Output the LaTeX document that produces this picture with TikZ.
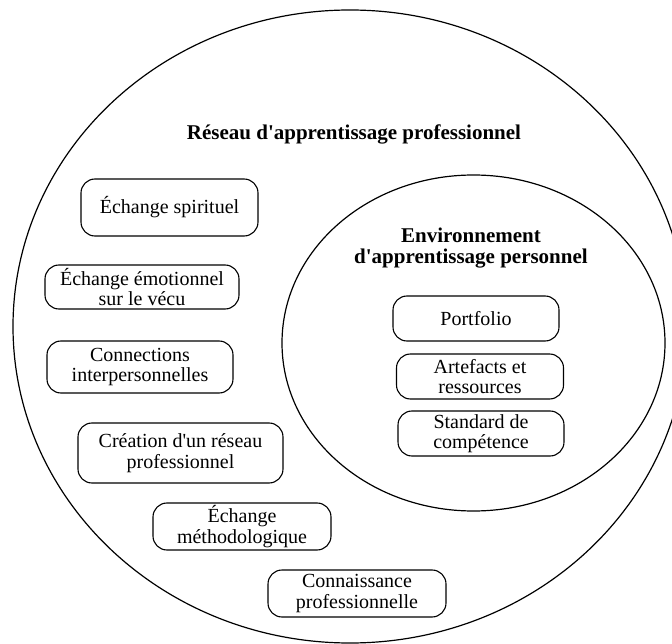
\documentclass[tikz,border=0pt]{standalone}
\usepackage{fontspec}
\setmainfont{Liberation Serif}[Ligatures=TeXOff]
\usetikzlibrary{shapes.geometric}
\begin{document}
\begin{tikzpicture}[x=1pt,y=-1pt,
  every node/.style={inner sep=0pt, outer sep=0pt},
  ring/.style={draw, ellipse, line width=1.2pt},
  itembox/.style={draw, rounded corners=14pt, line width=1.1pt, align=center,
    font=\fontsize{20}{20.5}\selectfont},
  heading/.style={align=center, font=\bfseries\fontsize{21}{21}\selectfont}]
\useasboundingbox (0,0) rectangle (672,644);
\clip (0,0) rectangle (672,644);
\node[ring, minimum width=674pt, minimum height=633pt] (outer) at (350,326.5) {};
\node[ring, minimum width=383pt, minimum height=336pt] (inner) at (473.5,343) {};
\node[heading] (t1) at (354,134) {Réseau d'apprentissage professionnel};
\node[heading] (t2) at (471,248) {Environnement\\d'apprentissage personnel};
\node[itembox, minimum width=177pt, minimum height=57pt] (b1) at (169.5,207.5) {Échange spirituel};
\node[itembox, minimum width=194pt, minimum height=44pt] (b2) at (142,287) {Échange émotionnel\\sur le vécu};
\node[itembox, minimum width=186pt, minimum height=52pt] (b3) at (140,367) {Connections\\interpersonnelles};
\node[itembox, minimum width=205pt, minimum height=60pt] (b4) at (180.5,453) {Création d'un réseau\\professionnel};
\node[itembox, minimum width=178pt, minimum height=47pt] (b5) at (242,526.5) {Échange\\méthodologique};
\node[itembox, minimum width=178pt, minimum height=47pt] (b6) at (357,593.5) {Connaissance\\professionnelle};
\node[itembox, minimum width=166pt, minimum height=45pt] (p1) at (476,318.5) {Portfolio};
\node[itembox, minimum width=167pt, minimum height=45pt] (p2) at (480,376.5) {Artefacts et\\ressources};
\node[itembox, minimum width=166pt, minimum height=45pt] (p3) at (481,433.5) {Standard de\\compétence};
\end{tikzpicture}
\end{document}
